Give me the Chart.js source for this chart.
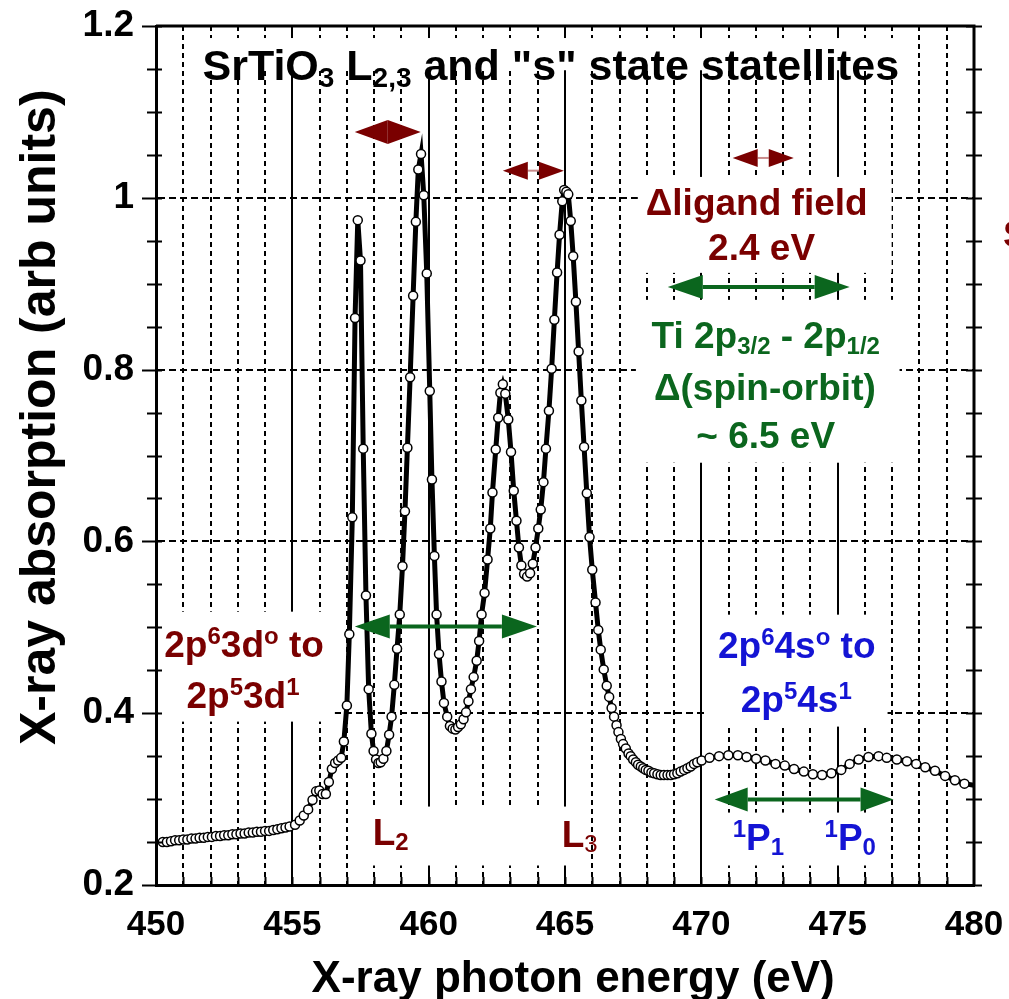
<!DOCTYPE html>
<html>
<head>
<meta charset="utf-8">
<script src="https://cdn.jsdelivr.net/npm/chart.js@4.4.1/dist/chart.umd.min.js"></script>
<style>
  html, body { margin: 0; padding: 0; background: #fff; }
  #wrap { width: 1009px; height: 999px; }
</style>
</head>
<body>
<div id="wrap"><canvas id="xas" width="1009" height="999"></canvas></div>
<script>
const energy = [
  450.25, 450.40, 450.55, 450.70, 450.85, 451.00, 451.15, 451.30, 451.45, 451.60,
  451.75, 451.90, 452.05, 452.20, 452.35, 452.50, 452.65, 452.80, 452.95, 453.10,
  453.25, 453.40, 453.55, 453.70, 453.85, 454.00, 454.15, 454.30, 454.45, 454.60,
  454.75, 454.90, 455.10, 455.27, 455.42, 455.58, 455.74, 455.87, 455.99, 456.11,
  456.23, 456.34, 456.45, 456.57, 456.68, 456.79, 456.89, 457.00, 457.09, 457.20,
  457.30, 457.40, 457.50, 457.60, 457.70, 457.80, 457.90, 457.98, 458.07, 458.16,
  458.24, 458.34, 458.45, 458.55, 458.64, 458.74, 458.84, 458.94, 459.04, 459.13,
  459.22, 459.32, 459.43, 459.53, 459.62, 459.72, 459.82, 459.93, 460.04, 460.12,
  460.21, 460.29, 460.38, 460.47, 460.56, 460.68, 460.78, 460.88, 460.98, 461.08,
  461.18, 461.28, 461.37, 461.46, 461.55, 461.65, 461.76, 461.85, 461.94, 462.05,
  462.16, 462.26, 462.34, 462.46, 462.55, 462.63, 462.72, 462.81, 462.92, 463.02,
  463.12, 463.22, 463.31, 463.40, 463.50, 463.61, 463.72, 463.82, 463.92, 464.02,
  464.11, 464.21, 464.30, 464.41, 464.51, 464.61, 464.71, 464.80, 464.90, 464.97,
  465.05, 465.12, 465.21, 465.30, 465.40, 465.50, 465.60, 465.70, 465.80, 465.90,
  466.00, 466.12, 466.22, 466.31, 466.42, 466.53, 466.62, 466.71, 466.80, 466.89,
  466.96, 467.05, 467.13, 467.23, 467.33, 467.41, 467.50, 467.60, 467.68, 467.78,
  467.87, 467.96, 468.06, 468.17, 468.27, 468.39, 468.51, 468.63, 468.76, 468.88,
  469.00, 469.12, 469.24, 469.37, 469.49, 469.61, 469.73, 469.85, 470.01, 470.30,
  470.65, 470.99, 471.34, 471.66, 472.01, 472.35, 472.72, 473.06, 473.40, 473.76,
  474.09, 474.43, 474.77, 475.13, 475.44, 475.77, 476.13, 476.50, 476.80, 477.17,
  477.54, 477.88, 478.21, 478.57, 478.94, 479.30, 479.65, 480.00
];
const absorption = [
  0.250, 0.250, 0.251, 0.252, 0.252, 0.253, 0.253, 0.254, 0.254, 0.255,
  0.255, 0.256, 0.256, 0.257, 0.257, 0.258, 0.258, 0.259, 0.259, 0.260,
  0.260, 0.261, 0.261, 0.262, 0.262, 0.263, 0.263, 0.264, 0.265, 0.266,
  0.267, 0.268, 0.270, 0.275, 0.281, 0.288, 0.299, 0.309, 0.310, 0.306,
  0.306, 0.320, 0.335, 0.342, 0.345, 0.348, 0.367, 0.409, 0.492, 0.628,
  0.860, 0.974, 0.927, 0.708, 0.537, 0.428, 0.376, 0.356, 0.346, 0.342,
  0.343, 0.347, 0.356, 0.375, 0.396, 0.433, 0.475, 0.515, 0.571, 0.635,
  0.709, 0.791, 0.886, 0.972, 1.033, 1.051, 1.003, 0.912, 0.775, 0.672,
  0.583, 0.515, 0.469, 0.437, 0.412, 0.396, 0.385, 0.382, 0.381, 0.384,
  0.387, 0.393, 0.401, 0.414, 0.428, 0.442, 0.461, 0.484, 0.515, 0.540,
  0.579, 0.615, 0.657, 0.707, 0.744, 0.773, 0.783, 0.772, 0.742, 0.704,
  0.659, 0.624, 0.593, 0.572, 0.562, 0.559, 0.563, 0.574, 0.593, 0.615,
  0.637, 0.669, 0.708, 0.752, 0.801, 0.858, 0.913, 0.957, 0.996, 1.009,
  1.007, 1.004, 0.973, 0.932, 0.879, 0.821, 0.764, 0.710, 0.656, 0.605,
  0.567, 0.529, 0.497, 0.474, 0.451, 0.432, 0.419, 0.406, 0.396, 0.386,
  0.378, 0.370, 0.364, 0.359, 0.353, 0.350, 0.346, 0.343, 0.340, 0.338,
  0.336, 0.334, 0.333, 0.331, 0.330, 0.329, 0.328, 0.328, 0.328, 0.328,
  0.329, 0.330, 0.332, 0.334, 0.336, 0.338, 0.341, 0.343, 0.345, 0.348,
  0.350, 0.351, 0.351, 0.349, 0.347, 0.345, 0.341, 0.339, 0.335, 0.332,
  0.329, 0.328, 0.330, 0.334, 0.341, 0.346, 0.349, 0.350, 0.348, 0.346,
  0.344, 0.341, 0.337, 0.333, 0.327, 0.322, 0.318, 0.316
];
const xRange = [450, 480];
const yRange = [0.2, 1.2];
const xTickStep = 5;
const yTickStep = 0.2;

const FONT = '"Liberation Sans", Arial, sans-serif';
const MAROON = '#7a0000', GREEN = '#0b661e', BLUE = '#1414d4';

// ── ANNOTATIONS (in data units) ──
// white label boxes that knock out the grid: [e1, e2, vTop, vBottom]
const BOXES = [
  [451.25, 477.82, 1.186, 1.1485],
  [467.67, 476.98, 1.0243, 0.9126],
  [467.60, 477.27, 0.8812, 0.6916],
  [450.08, 456.56, 0.5182, 0.3902],
  [457.11, 465.91, 0.2913, 0.2227],
  [470.23, 476.83, 0.5147, 0.3844],
  [470.67, 476.91, 0.2843, 0.2227]
];
// [text parts, e, v, size, colour, align]
const LABELS = [
  [[['SrTiO', ''], ['3', 'sub'], [' L', ''], ['2,3', 'sub'], [' and "s" state statellites', '']], 464.48, 1.137, 43, '#000', 'center'],
  [[['\u0394ligand field', '']], 472.03, 0.980, 37, MAROON, 'center'],
  [[['2.4 eV', '']], 472.21, 0.9277, 37, MAROON, 'center'],
  [[['Ti 2p', ''], ['3/2', 'sub'], [' - 2p', ''], ['1/2', 'sub']], 472.36, 0.8253, 37, GREEN, 'center'],
  [[['\u0394(spin-orbit)', '']], 472.33, 0.7649, 37, GREEN, 'center'],
  [[['~ 6.5 eV', '']], 472.36, 0.709, 37, GREEN, 'center'],
  [[['2p', ''], ['6', 'sup'], ['3d', ''], ['o', 'sup'], [' to', '']], 453.23, 0.4659, 37, MAROON, 'center'],
  [[['2p', ''], ['5', 'sup'], ['3d', ''], ['1', 'sup']], 453.19, 0.4065, 37, MAROON, 'center'],
  [[['L', ''], ['2', 'sub']], 457.95, 0.2471, 37, MAROON, 'left'],
  [[['L', ''], ['3', 'subthin']], 464.88, 0.2448, 37, MAROON, 'left'],
  [[['2p', ''], ['6', 'sup'], ['4s', ''], ['o', 'sup'], [' to', '']], 473.50, 0.4647, 37, BLUE, 'center'],
  [[['2p', ''], ['5', 'sup'], ['4s', ''], ['1', 'sup']], 473.48, 0.4019, 37, BLUE, 'center'],
  [[['1', 'sup'], ['P', ''], ['1', 'sub']], 471.15, 0.2413, 37, BLUE, 'left'],
  [[['1', 'sup'], ['P', ''], ['0', 'sub']], 474.52, 0.2413, 37, BLUE, 'left']
];
// [e1, e2, v, head px, half-height px, colour, shaft px, shaft colour]
const ARROWS = [
  [457.29, 459.71, 1.0767, 33, 12, MAROON, 0, MAROON],
  [462.72, 464.96, 1.0316, 25, 9, MAROON, 2, '#c98a8a'],
  [471.15, 473.39, 1.0464, 25, 9, MAROON, 2, '#c98a8a'],
  [468.77, 475.44, 0.8963, 35, 12, GREEN, 4, GREEN],
  [457.29, 463.97, 0.5008, 35, 12, GREEN, 4, GREEN],
  [470.49, 477.05, 0.2995, 33, 12, GREEN, 4, GREEN]
];

function drawRich(ctx, parts, x, y, size, color, align) {
  const small = Math.round(size * 0.66);
  const fontOf = p => (p[1] === 'subthin' ? '' : 'bold ') + (p[1] ? small : size) + 'px ' + FONT;
  let w = 0;
  parts.forEach(p => { ctx.font = fontOf(p); w += ctx.measureText(p[0]).width; });
  let cx = align === 'center' ? x - w / 2 : x;
  ctx.fillStyle = color;
  ctx.textAlign = 'left';
  ctx.textBaseline = 'alphabetic';
  parts.forEach(p => {
    ctx.font = fontOf(p);
    const dy = p[1] === 'sup' ? -size * 0.34 : (p[1] ? size * 0.16 : 0);
    ctx.fillText(p[0], cx, y + dy);
    cx += ctx.measureText(p[0]).width;
  });
}

function drawArrow(ctx, x1, x2, y, head, half, color, shaft, shaftColor) {
  if (shaft) {
    ctx.strokeStyle = shaftColor; ctx.lineWidth = shaft;
    ctx.beginPath(); ctx.moveTo(x1 + head, y); ctx.lineTo(x2 - head, y); ctx.stroke();
  }
  ctx.fillStyle = color;
  ctx.beginPath(); ctx.moveTo(x1, y); ctx.lineTo(x1 + head, y - half); ctx.lineTo(x1 + head, y + half); ctx.closePath(); ctx.fill();
  ctx.beginPath(); ctx.moveTo(x2, y); ctx.lineTo(x2 - head, y - half); ctx.lineTo(x2 - head, y + half); ctx.closePath(); ctx.fill();
}

const annotate = {
  id: 'annotate',
  beforeDatasetsDraw(chart) {
    const { ctx, scales: { x, y } } = chart;
    ctx.save();
    ctx.fillStyle = '#fff';
    BOXES.forEach(b => {
      const l = x.getPixelForValue(b[0]), r = x.getPixelForValue(b[1]);
      const t = y.getPixelForValue(b[2]), bt = y.getPixelForValue(b[3]);
      ctx.fillRect(l, t, r - l, bt - t);
    });
    ctx.restore();
  },
  afterDatasetsDraw(chart) {
    const { ctx, chartArea: a, scales: { x, y } } = chart;
    ctx.save();
    ARROWS.forEach(r => drawArrow(ctx, x.getPixelForValue(r[0]), x.getPixelForValue(r[1]),
      y.getPixelForValue(r[2]), r[3], r[4], r[5], r[6], r[7]));
    LABELS.forEach(l => drawRich(ctx, l[0], x.getPixelForValue(l[1]), y.getPixelForValue(l[2]), l[3], l[4], l[5]));
    // cut-off label at the right edge
    drawRich(ctx, [['S', '']], a.right + 29, y.getPixelForValue(0.943), 37, MAROON, 'left');

    // axis titles
    ctx.fillStyle = '#000';
    ctx.textAlign = 'center';
    ctx.textBaseline = 'alphabetic';
    ctx.font = 'bold 44px ' + FONT;
    ctx.fillText('X-ray photon energy (eV)', x.getPixelForValue(465.3), a.bottom + 107);
    ctx.save();
    ctx.translate(55, y.getPixelForValue(0.7445));
    ctx.rotate(-Math.PI / 2);
    ctx.font = 'bold 50px ' + FONT;
    ctx.fillText('X-ray absorption (arb units)', 0, 0);
    ctx.restore();

    // frame + inward ticks
    ctx.strokeStyle = '#000';
    ctx.lineWidth = 3;
    ctx.beginPath();
    ctx.moveTo(a.left, a.top); ctx.lineTo(a.right, a.top); ctx.lineTo(a.right, a.bottom);
    ctx.stroke();
    ctx.lineWidth = 2;
    ctx.beginPath();
    for (let v = yRange[0]; v <= yRange[1] + 1e-9; v += 0.05) {
      const py = Math.round(y.getPixelForValue(v)) + 0.5;
      const major = Math.abs(v / yTickStep - Math.round(v / yTickStep)) < 1e-6;
      ctx.moveTo(a.left - (major ? 14 : 9), py); ctx.lineTo(a.left + 6, py);
      ctx.moveTo(a.right - 8, py); ctx.lineTo(a.right + 8, py);
    }
    for (let e = xRange[0] + 1; e < xRange[1]; e++) {
      const px = Math.round(x.getPixelForValue(e)) + 0.5;
      ctx.moveTo(px, a.bottom); ctx.lineTo(px, a.bottom - 8);
    }
    ctx.stroke();
    ctx.restore();
  }
};

new Chart(document.getElementById('xas'), {
  type: 'scatter',
  data: {
    datasets: [{
      data: energy.map((e, i) => ({ x: e, y: absorption[i] })),
      showLine: true,
      borderColor: '#000',
      borderWidth: 5,
      pointRadius: c => (c.dataIndex === energy.length - 1 ? 0 : 4.5),
      pointBackgroundColor: '#fff',
      pointBorderColor: '#000',
      pointBorderWidth: 1.5,
      tension: 0
    }]
  },
  options: {
    responsive: false,
    animation: false,
    devicePixelRatio: 1,
    layout: { padding: { left: 0, right: 35, top: 26, bottom: 0 } },
    plugins: { legend: { display: false }, tooltip: { enabled: false } },
    scales: {
      x: {
        type: 'linear', position: 'bottom', min: xRange[0], max: xRange[1],
        afterFit: s => { s.height = 114; s.paddingLeft = 0; s.paddingRight = 0; },
        ticks: { stepSize: xTickStep, color: '#000', padding: 19, maxRotation: 0,
          font: { family: FONT, size: 35, weight: 'bold' } },
        grid: { color: '#000', lineWidth: 2, drawTicks: false },
        border: { color: '#000', width: 3 }
      },
      xMinor: {
        type: 'linear', position: 'top', min: xRange[0], max: xRange[1],
        afterFit: s => { s.height = 0; s.paddingLeft = 0; s.paddingRight = 0; },
        ticks: { display: false, stepSize: 1 },
        grid: { color: c => (c.tick && c.tick.value % 5 === 0 ? 'rgba(0,0,0,0)' : '#000'), lineWidth: 2, drawTicks: false },
        border: { display: false, dash: [5, 4] }
      },
      y: {
        type: 'linear', min: yRange[0], max: yRange[1],
        afterFit: s => { s.width = 156; s.paddingTop = 0; s.paddingBottom = 0; },
        ticks: { stepSize: yTickStep, color: '#000', padding: 22,
          callback: v => String(Number(v.toFixed(1))),
          font: { family: FONT, size: 37, weight: 'bold' } },
        grid: { color: c => (c.tick && (c.tick.value < 0.3 || c.tick.value > 1.1) ? 'rgba(0,0,0,0)' : '#000'),
          lineWidth: 2, drawTicks: false },
        border: { color: '#000', width: 3, dash: [7, 4] }
      }
    }
  },
  plugins: [annotate]
});
</script>
</body>
</html>
